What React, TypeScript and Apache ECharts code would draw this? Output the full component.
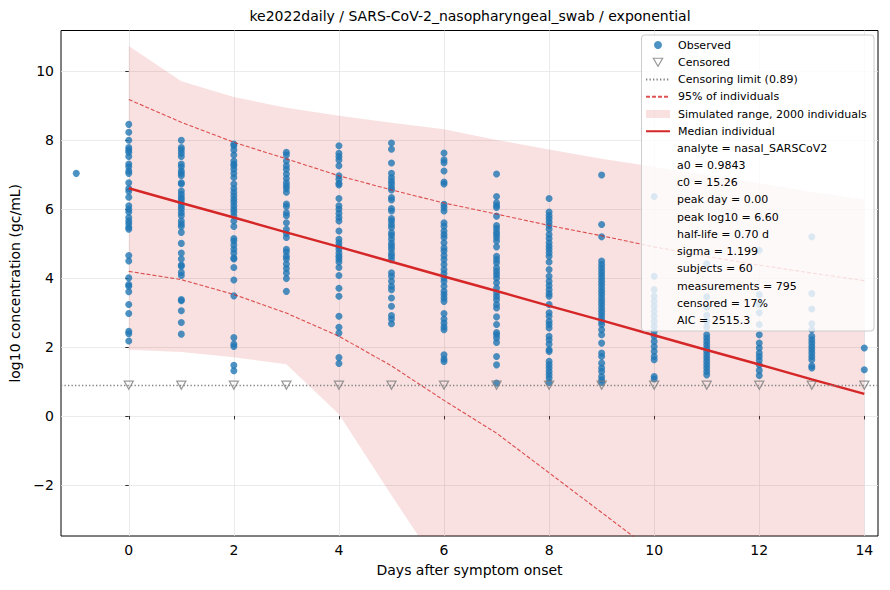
import * as echarts from "echarts";
import { useEffect, useRef } from "react";

const TITLE = "ke2022daily / SARS-CoV-2_nasopharyngeal_swab / exponential";
const FONT = "DejaVu Sans";

const DAYS = [0, 1, 2, 3, 4, 5, 6, 7, 8, 9, 10, 11, 12, 13, 14];
const X_TICKS = [0, 2, 4, 6, 8, 10, 12, 14];
const Y_TICKS = [-2, 0, 2, 4, 6, 8, 10];
const CENSOR_LIMIT = 0.89;

// observed log10 values per day after onset
const dayM1 = [7.03];
const day0 = [8.45, 8.22, 7.99, 7.78, 7.71, 7.64, 7.52, 7.3, 7.22, 7.1, 7.03, 6.76, 6.59, 6.51, 6.34, 6.09, 5.99, 5.91, 5.75, 5.65, 5.57, 5.47, 5.41, 4.65, 4.49, 4.0, 3.81, 3.76, 3.6, 3.23, 2.97, 2.45, 2.38, 2.17];
const day1 = [7.99, 7.78, 7.71, 7.61, 7.52, 7.3, 7.22, 7.1, 7.03, 6.96, 6.76, 6.72, 6.52, 6.42, 6.33, 6.26, 6.16, 6.07, 5.99, 5.89, 5.8, 5.65, 5.56, 5.49, 5.32, 5.0, 4.72, 4.55, 4.37, 4.34, 4.16, 4.07, 3.37, 3.34, 3.05, 2.71, 2.37];
const day2 = [7.88, 7.83, 7.71, 7.56, 7.39, 7.3, 7.25, 7.15, 7.03, 6.91, 6.72, 6.59, 6.48, 6.38, 6.28, 6.19, 6.09, 5.99, 5.91, 5.8, 5.65, 5.49, 5.14, 5.07, 4.95, 4.83, 4.72, 4.58, 4.55, 4.3, 3.94, 3.48, 2.27, 2.08, 2.01, 1.47, 1.31];
const day3 = [7.64, 7.56, 7.39, 7.25, 7.15, 7.01, 6.88, 6.76, 6.67, 6.59, 6.48, 6.14, 6.07, 5.89, 5.8, 5.6, 5.41, 5.29, 5.17, 4.83, 4.75, 4.63, 4.55, 4.4, 4.27, 4.14, 3.98, 3.61];
const day4 = [7.83, 7.61, 7.52, 7.42, 7.25, 6.96, 6.86, 6.74, 6.69, 6.3, 6.09, 5.99, 5.87, 5.75, 5.65, 5.36, 5.12, 5.02, 4.92, 4.83, 4.72, 4.63, 4.55, 4.46, 4.3, 4.07, 3.7, 3.47, 2.89, 2.57, 2.4, 1.69, 1.52];
const day5 = [7.91, 7.73, 7.33, 7.03, 6.91, 6.81, 6.72, 6.62, 6.55, 6.33, 6.26, 6.01, 5.94, 5.72, 5.65, 5.55, 5.46, 5.31, 5.23, 5.12, 5.0, 4.92, 4.83, 4.71, 4.63, 4.53, 4.15, 4.05, 3.9, 3.76, 3.66, 3.42, 3.18, 2.91, 2.81, 2.67];
const day6 = [7.62, 7.42, 7.34, 7.1, 6.78, 6.72, 6.13, 6.04, 5.94, 5.6, 5.5, 5.36, 5.26, 5.17, 5.02, 4.87, 4.78, 4.65, 4.53, 4.39, 4.24, 4.13, 4.0, 3.9, 3.76, 3.61, 3.52, 3.42, 3.32, 2.97, 2.81, 2.69, 2.58, 2.5, 1.77, 1.65, 1.58];
const day7 = [7.01, 6.36, 6.18, 6.1, 6.04, 5.79, 5.52, 5.43, 5.33, 5.26, 5.17, 5.07, 4.9, 4.63, 4.53, 4.44, 4.29, 4.19, 4.1, 4.0, 3.86, 3.71, 3.57, 3.47, 3.37, 3.23, 3.13, 2.87, 2.65, 2.42, 2.35, 2.26, 2.13, 1.72, 1.48, 0.95];
const day8 = [6.3, 5.91, 5.81, 5.72, 5.62, 5.52, 5.41, 5.26, 5.14, 5.02, 4.92, 4.83, 4.73, 4.63, 4.46, 4.24, 4.05, 3.9, 3.78, 3.66, 3.55, 3.47, 3.23, 2.99, 2.89, 2.74, 2.65, 2.55, 2.31, 2.21, 2.08, 1.92, 1.87, 1.58, 1.48, 1.39, 1.29, 1.19, 1.1, 0.97];
const day9 = [6.98, 5.55, 5.19, 4.49, 4.39, 4.29, 4.19, 4.1, 4.0, 3.9, 3.81, 3.71, 3.61, 3.52, 3.42, 3.32, 3.23, 3.13, 3.03, 2.94, 2.84, 2.74, 2.65, 2.5, 2.35, 2.11, 1.82, 1.72, 1.53, 1.39, 1.29, 1.14, 1.05, 0.97];
const day10 = [6.36, 4.05, 3.66, 3.47, 3.32, 3.18, 3.03, 2.89, 2.74, 2.6, 2.45, 2.31, 2.16, 2.01, 1.87, 1.72, 1.63, 1.14, 1.07];
const day11 = [4.41, 3.45, 3.15, 2.92, 2.74, 2.58, 2.35, 2.26, 2.16, 2.06, 1.97, 1.87, 1.77, 1.68, 1.58, 1.48, 1.39, 1.29, 1.19];
const day12 = [4.8, 3.52, 3.23, 2.99, 2.65, 2.35, 2.11, 1.97, 1.82, 1.72, 1.61, 1.48, 1.32, 1.17];
const day13 = [5.19, 3.55, 3.1, 2.67, 2.5, 2.31, 2.21, 2.11, 2.01, 1.92, 1.82, 1.72, 1.63, 1.45, 1.39];
const day14 = [1.97, 1.34];

const OBSERVED_BY_DAY: [number, number[]][] = [
  [-1, dayM1], [0, day0], [1, day1], [2, day2], [3, day3], [4, day4], [5, day5], [6, day6],
  [7, day7], [8, day8], [9, day9], [10, day10], [11, day11], [12, day12], [13, day13], [14, day14],
];

// model curves per day
const MEDIAN = [6.6, 6.17, 5.75, 5.32, 4.9, 4.47, 4.04, 3.62, 3.19, 2.77, 2.34, 1.91, 1.49, 1.06, 0.64];
const P95_UPPER = [9.17, 8.51, 7.93, 7.45, 6.96, 6.55, 6.17, 5.85, 5.52, 5.22, 4.9, 4.62, 4.37, 4.14, 3.92];
const P95_LOWER = [4.19, 3.95, 3.52, 2.98, 2.31, 1.45, 0.45, -0.5, -1.65, -2.8, -3.95, -5.1, -6.25, -7.4, -8.55];
const SIM_MAX = [10.72, 9.7, 9.24, 8.93, 8.7, 8.5, 8.31, 8.0, 7.72, 7.45, 7.22, 6.98, 6.74, 6.5, 6.27];
const SIM_MIN = [1.92, 1.85, 1.7, 1.5, 0.05, -2.3, -4.6, -6.9, -9.2, -11.5, -13.8, -16.1, -18.4, -20.7, -23.0];

const STATS = [
  "analyte = nasal_SARSCoV2",
  "a0 = 0.9843",
  "c0 = 15.26",
  "peak day = 0.00",
  "peak log10 = 6.60",
  "half-life = 0.70 d",
  "sigma = 1.199",
  "subjects = 60",
  "measurements = 795",
  "censored = 17%",
  "AIC = 2515.3",
];

const RED = "#d62728";
const DASH_RED = "rgba(214,39,40,0.8)";
const BAND = "rgba(214,39,40,0.14)";
const TRI = "path://M0,0L10,0L5,8.66Z";

const minus = (v: number) => String(v).replace("-", "\u2212");

type Pt = number[];

// keep the part of a polygon that lies between two horizontal pixel lines
function clipBetween(points: Pt[], top: number, bottom: number): Pt[] {
  const half = (pts: Pt[], inside: (p: Pt) => boolean, yEdge: number) => {
    const out: Pt[] = [];
    for (let i = 0; i < pts.length; i++) {
      const cur = pts[i];
      const prev = pts[(i + pts.length - 1) % pts.length];
      const cross = () => {
        const t = (yEdge - prev[1]) / (cur[1] - prev[1]);
        return [prev[0] + t * (cur[0] - prev[0]), yEdge];
      };
      if (inside(cur)) {
        if (!inside(prev)) out.push(cross());
        out.push(cur);
      } else if (inside(prev)) {
        out.push(cross());
      }
    }
    return out;
  };
  const a = half(points, (p) => p[1] <= bottom, bottom);
  return half(a, (p) => p[1] >= top, top);
}

export default function App() {
  const ref = useRef<HTMLDivElement>(null);

  useEffect(() => {
    if (!ref.current) return;
    const chart = echarts.init(ref.current, null, { renderer: "svg" });

    const pairs = (ys: number[]) => DAYS.map((d, i) => [d, ys[i]]);
    const observed = OBSERVED_BY_DAY.flatMap(([d, vals]) => vals.map((v) => [d, v]));
    const censored = DAYS.map((d) => [d, CENSOR_LIMIT]);
    const hideDot = { opacity: 0 };

    const option: echarts.EChartsCoreOption = {
      animation: false,
      textStyle: { fontFamily: FONT },
      title: {
        text: TITLE,
        left: 470,
        top: 9,
        padding: 0,
        textAlign: "center",
        textStyle: { fontSize: 14, fontWeight: "normal", color: "#000", fontFamily: FONT },
      },
      grid: {
        left: 61,
        top: 30.5,
        right: 12,
        bottom: 54,
        show: true,
        borderColor: "#000",
        borderWidth: 1,
        outerBoundsMode: "none",
      },
      xAxis: {
        type: "value",
        min: -1.29,
        max: 14.26,
        name: "Days after symptom onset",
        nameLocation: "middle",
        nameGap: 27,
        nameTextStyle: { fontSize: 14, color: "#000", fontFamily: FONT },
        axisLine: { show: false },
        axisTick: { show: true, length: 3.5, lineStyle: { color: "#000", width: 0.8 }, customValues: X_TICKS },
        axisLabel: { fontSize: 14, color: "#000", margin: 7, customValues: X_TICKS, formatter: minus },
        splitLine: { show: true, lineStyle: { color: "#e6e6e6", width: 0.8 } },
      },
      yAxis: {
        type: "value",
        min: -3.48,
        max: 11.17,
        name: "log10 concentration (gc/mL)",
        nameLocation: "middle",
        nameGap: 36,
        nameTextStyle: { fontSize: 14, color: "#000", fontFamily: FONT },
        axisLine: { show: false },
        axisTick: { show: true, length: 3.5, lineStyle: { color: "#000", width: 0.8 }, customValues: Y_TICKS },
        axisLabel: { fontSize: 14, color: "#000", margin: 7, customValues: Y_TICKS, formatter: minus },
        splitLine: { show: true, lineStyle: { color: "#e6e6e6", width: 0.8 } },
      },
      legend: {
        orient: "vertical",
        left: 645,
        top: 39,
        padding: 0,
        z: 60,
        itemWidth: 24,
        itemHeight: 8,
        itemGap: 5.25,
        selectedMode: false,
        textStyle: { fontSize: 11, lineHeight: 12, color: "#000", fontFamily: FONT, padding: [0, 0, 0, 3] },
        data: [
          { name: "Observed", icon: "circle" },
          {
            name: "Censored",
            icon: TRI,
            itemStyle: { color: "rgba(0,0,0,0)", borderColor: "#808080", borderWidth: 1.2 },
          },
          { name: "Censoring limit (0.89)", itemStyle: hideDot },
          { name: "95% of individuals", itemStyle: hideDot },
          { name: "Simulated range, 2000 individuals", icon: "rect", itemStyle: { color: BAND, borderWidth: 0 } },
          { name: "Median individual", itemStyle: hideDot },
        ],
      },
      graphic: [
        {
          type: "rect",
          z: 50,
          silent: true,
          shape: { x: 641.5, y: 35, width: 232.5, height: 296, r: 3 },
          style: { fill: "rgba(255,255,255,0.8)", stroke: "#cccccc", lineWidth: 1 },
        },
        ...STATS.map((s, k) => ({
          type: "text",
          z: 60,
          silent: true,
          x: 677,
          y: 148 + 17.25 * k,
          style: { text: s, fontSize: 11, fontFamily: FONT, fill: "#000", verticalAlign: "middle" },
        })),
      ],
      series: [
        {
          name: "Simulated range, 2000 individuals",
          type: "custom",
          silent: true,
          data: [[0, 0]],
          itemStyle: { color: BAND },
          renderItem: (params: any, api: any) => {
            const upper = DAYS.map((d, i) => api.coord([d, SIM_MAX[i]]));
            const lower = DAYS.map((d, i) => api.coord([d, SIM_MIN[i]])).reverse();
            const cs = params.coordSys;
            const pts = clipBetween([...upper, ...lower], cs.y, cs.y + cs.height);
            return { type: "polygon", shape: { points: pts }, style: { fill: BAND } };
          },
        },
        {
          name: "Observed",
          type: "scatter",
          data: observed,
          symbol: "circle",
          symbolSize: 7,
          itemStyle: { color: "#1f77b4", opacity: 0.8 },
        },
        {
          name: "Censoring limit (0.89)",
          type: "line",
          data: [],
          symbol: "none",
          lineStyle: { color: "#808080", width: 1.3, type: [1.3, 2.2] },
          itemStyle: { color: "#808080" },
          markLine: {
            silent: true,
            symbol: ["none", "none"],
            label: { show: false },
            lineStyle: { color: "#808080", width: 1.3, type: [1.3, 2.2] },
            data: [{ yAxis: CENSOR_LIMIT }],
          },
        },
        {
          name: "95% of individuals",
          type: "line",
          data: pairs(P95_UPPER),
          symbol: "none",
          lineStyle: { color: DASH_RED, width: 1.1, type: [4, 2] },
          itemStyle: { color: DASH_RED },
        },
        {
          name: "95% of individuals",
          type: "line",
          data: pairs(P95_LOWER),
          symbol: "none",
          lineStyle: { color: DASH_RED, width: 1.1, type: [4, 2] },
          itemStyle: { color: DASH_RED },
        },
        {
          name: "Median individual",
          type: "line",
          data: pairs(MEDIAN),
          symbol: "none",
          lineStyle: { color: RED, width: 2.5 },
          itemStyle: { color: RED },
        },
        {
          name: "Censored",
          type: "scatter",
          data: censored,
          symbol: TRI,
          symbolSize: [9, 8],
          itemStyle: { color: "rgba(0,0,0,0)", borderColor: "#808080", borderWidth: 1.3 },
        },
      ],
    };

    chart.setOption(option);
    return () => chart.dispose();
  }, []);

  return (
    <div
      ref={ref}
      style={{ position: "absolute", left: 0, top: 0, width: 890, height: 590, background: "#fff" }}
    />
  );
}
